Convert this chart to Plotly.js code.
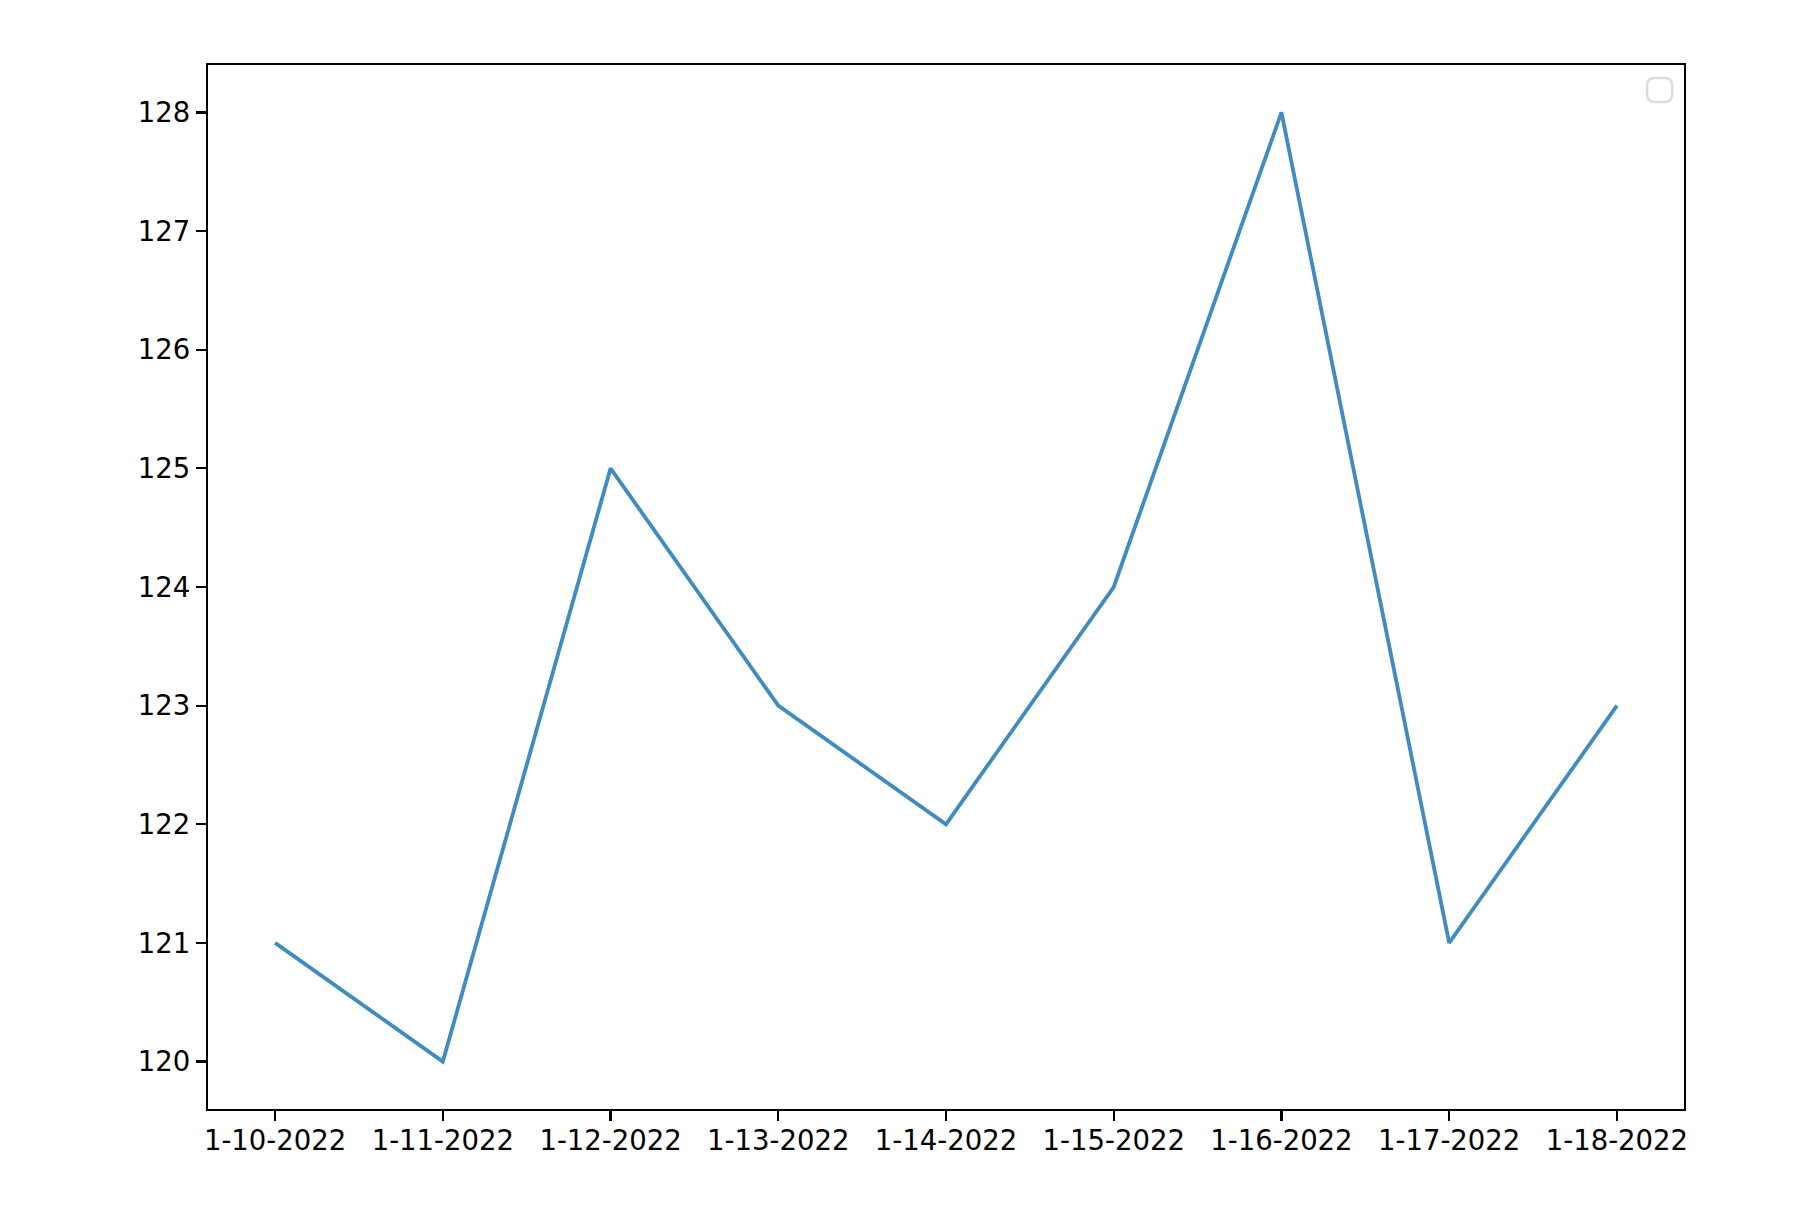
<!DOCTYPE html>
<html>
<head>
<meta charset="utf-8">
<script src="https://cdn.plot.ly/plotly-3.0.1.min.js"></script>
<style>
  body { margin: 0; background: #fff; }
  #chart { width: 1806px; height: 1222px; }
</style>
</head>
<body>
<div id="chart"></div>
<script>
// dates on the x axis
const dates = ['1-10-2022', '1-11-2022', '1-12-2022', '1-13-2022', '1-14-2022',
               '1-15-2022', '1-16-2022', '1-17-2022', '1-18-2022'];
// values
const values = [121, 120, 125, 123, 122, 124, 128, 121, 123];
const yTicks = [120, 121, 122, 123, 124, 125, 126, 127, 128];

const line = {
  type: 'scatter',
  mode: 'lines',
  x: dates,
  y: values,
  line: { color: 'rgba(31,119,180,0.85)', width: 3.8 },
  showlegend: false,
  hoverinfo: 'x+y'
};

const axisStyle = {
  showline: true,
  mirror: true,
  linecolor: '#000',
  linewidth: 2.2,
  ticks: 'outside',
  ticklen: 10,
  tickwidth: 2.2,
  tickcolor: '#000',
  showgrid: false,
  zeroline: false
};

// empty legend frame in the top-right corner (rounded box, light grey)
const r = 0.005;
const x0 = 0.975, x1 = 0.992, y0 = 0.9646, y1 = 0.9876;
const rx = r, ry = r * 1476 / 1044;
const legendPath =
  `M ${x0 + rx},${y0} L ${x1 - rx},${y0} Q ${x1},${y0} ${x1},${y0 + ry} ` +
  `L ${x1},${y1 - ry} Q ${x1},${y1} ${x1 - rx},${y1} ` +
  `L ${x0 + rx},${y1} Q ${x0},${y1} ${x0},${y1 - ry} ` +
  `L ${x0},${y0 + ry} Q ${x0},${y0} ${x0 + rx},${y0} Z`;

const layout = {
  width: 1806,
  height: 1222,
  margin: { l: 208, r: 122, t: 65, b: 113 },
  paper_bgcolor: '#fff',
  plot_bgcolor: '#fff',
  font: { family: 'DejaVu Sans, sans-serif', size: 27.5, color: '#000' },
  xaxis: Object.assign({}, axisStyle, {
    type: 'category',
    range: [-0.4, 8.4],
    tickvals: dates,
    ticktext: dates,
    ticklabelstandoff: -4
  }),
  yaxis: Object.assign({}, axisStyle, {
    range: [119.6, 128.4],
    tickvals: yTicks
  }),
  shapes: [{
    type: 'path',
    xref: 'paper',
    yref: 'paper',
    path: legendPath,
    line: { color: '#dcdcdc', width: 2.5 },
    fillcolor: 'rgba(255,255,255,0.8)'
  }]
};

Plotly.newPlot('chart', [line], layout, { displayModeBar: false, staticPlot: true });
</script>
</body>
</html>
